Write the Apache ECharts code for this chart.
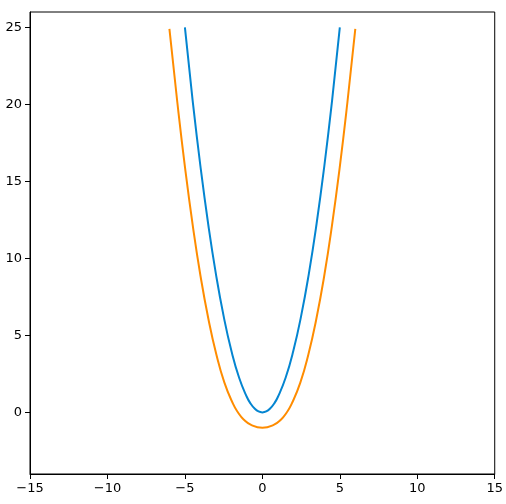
<!DOCTYPE html>
<html>
<head>
<meta charset="utf-8">
<script src="https://cdn.jsdelivr.net/npm/echarts@6/dist/echarts.min.js"></script>
<style>
  html, body { margin: 0; padding: 0; background: #fff; }
  #chart { width: 506px; height: 504px; }
</style>
</head>
<body>
<div id="chart"></div>
<script>
// blue curve
var blueX = [-5, -4.5, -4, -3.5, -3, -2.5, -2, -1.5, -1, -0.75, -0.5, -0.25, 0, 0.25, 0.5, 0.75, 1, 1.5, 2, 2.5, 3, 3.5, 4, 4.5, 5];
var blueY = [25, 20.25, 16, 12.25, 9, 6.25, 4, 2.25, 1, 0.56, 0.25, 0.06, 0, 0.06, 0.25, 0.56, 1, 2.25, 4, 6.25, 9, 12.25, 16, 20.25, 25];
// orange curve (sits one unit outside the blue one)
var orangeX = [-6, -5.49, -4.99, -4.49, -3.99, -3.48, -2.97, -2.45, -1.89, -1.58, -1.21, -0.7, 0, 0.7, 1.21, 1.58, 1.89, 2.45, 2.97, 3.48, 3.99, 4.49, 4.99, 5.49, 6];
var orangeY = [24.9, 20.14, 15.88, 12.11, 8.84, 6.05, 3.76, 1.93, 0.55, 0.01, -0.46, -0.83, -1, -0.83, -0.46, 0.01, 0.55, 1.93, 3.76, 6.05, 8.84, 12.11, 15.88, 20.14, 24.9];
var yTicks = [0, 5, 10, 15, 20, 25];

function pairs(xs, ys) {
  return xs.map(function (x, i) { return [x, ys[i]]; });
}
function minus(v) {
  return String(v).replace('-', '\u2212');
}

var myChart = echarts.init(document.getElementById('chart'));
var labelStyle = {
  color: '#000',
  fontSize: 13,
  fontFamily: 'DejaVu Sans',
  formatter: minus
};

myChart.setOption({
  animation: false,
  grid: {
    left: 30,
    right: 11,
    top: 12,
    bottom: 30,
    show: true,
    borderColor: '#000',
    borderWidth: 1
  },
  xAxis: {
    type: 'value',
    min: -15,
    max: 15,
    interval: 5,
    axisLine: { onZero: false, lineStyle: { color: '#000' } },
    axisTick: { length: 5, lineStyle: { color: '#000' } },
    axisLabel: Object.assign({ margin: 8 }, labelStyle),
    splitLine: { show: false }
  },
  yAxis: {
    type: 'value',
    min: -4,
    max: 26,
    axisLine: { show: true, onZero: false, lineStyle: { color: '#000' } },
    axisTick: { show: true, length: 5, customValues: yTicks, lineStyle: { color: '#000' } },
    axisLabel: Object.assign({ margin: 8, customValues: yTicks }, labelStyle),
    splitLine: { show: false }
  },
  series: [
    {
      type: 'line',
      data: pairs(blueX, blueY),
      smooth: true,
      showSymbol: false,
      lineStyle: { color: '#0485d1', width: 2 }
    },
    {
      type: 'line',
      data: pairs(orangeX, orangeY),
      smooth: true,
      showSymbol: false,
      lineStyle: { color: '#ff8c00', width: 2 }
    }
  ]
});
</script>
</body>
</html>
